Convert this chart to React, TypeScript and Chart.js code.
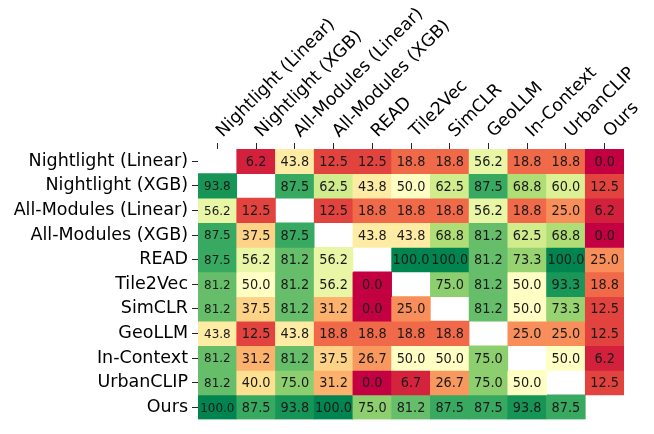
import { useEffect, useRef } from 'react';
import { Chart, registerables } from 'chart.js';

Chart.register(...registerables);

// Methods compared, used for both rows and columns
const methods = [
  'Nightlight (Linear)',
  'Nightlight (XGB)',
  'All-Modules (Linear)',
  'All-Modules (XGB)',
  'READ',
  'Tile2Vec',
  'SimCLR',
  'GeoLLM',
  'In-Context',
  'UrbanCLIP',
  'Ours',
];

// Win rate (%) of the row method against each column method; null on the diagonal
const rowNightlightLinear = [null, 6.2, 43.8, 12.5, 12.5, 18.8, 18.8, 56.2, 18.8, 18.8, 0.0];
const rowNightlightXGB = [93.8, null, 87.5, 62.5, 43.8, 50.0, 62.5, 87.5, 68.8, 60.0, 12.5];
const rowAllModulesLinear = [56.2, 12.5, null, 12.5, 18.8, 18.8, 18.8, 56.2, 18.8, 25.0, 6.2];
const rowAllModulesXGB = [87.5, 37.5, 87.5, null, 43.8, 43.8, 68.8, 81.2, 62.5, 68.8, 0.0];
const rowREAD = [87.5, 56.2, 81.2, 56.2, null, 100.0, 100.0, 81.2, 73.3, 100.0, 25.0];
const rowTile2Vec = [81.2, 50.0, 81.2, 56.2, 0.0, null, 75.0, 81.2, 50.0, 93.3, 18.8];
const rowSimCLR = [81.2, 37.5, 81.2, 31.2, 0.0, 25.0, null, 81.2, 50.0, 73.3, 12.5];
const rowGeoLLM = [43.8, 12.5, 43.8, 18.8, 18.8, 18.8, 18.8, null, 25.0, 25.0, 12.5];
const rowInContext = [81.2, 31.2, 81.2, 37.5, 26.7, 50.0, 50.0, 75.0, null, 50.0, 6.2];
const rowUrbanCLIP = [81.2, 40.0, 75.0, 31.2, 0.0, 6.7, 26.7, 75.0, 50.0, null, 12.5];
const rowOurs = [100.0, 87.5, 93.8, 100.0, 75.0, 81.2, 87.5, 87.5, 93.8, 87.5, null];

const rows: (number | null)[][] = [
  rowNightlightLinear,
  rowNightlightXGB,
  rowAllModulesLinear,
  rowAllModulesXGB,
  rowREAD,
  rowTile2Vec,
  rowSimCLR,
  rowGeoLLM,
  rowInContext,
  rowUrbanCLIP,
  rowOurs,
];

// Red-yellow-green ramp, 11 evenly spaced stops from 0 to 100 %
const RAMP = [
  [194, 0, 66],
  [222, 52, 58],
  [243, 112, 74],
  [252, 172, 104],
  [254, 224, 145],
  [255, 255, 196],
  [220, 241, 148],
  [170, 219, 114],
  [112, 194, 108],
  [36, 160, 92],
  [0, 132, 80],
];

function rampColor(t: number): string {
  const pos = Math.min(1, Math.max(0, t)) * (RAMP.length - 1);
  const i = Math.min(RAMP.length - 2, Math.floor(pos));
  const f = pos - i;
  const a = RAMP[i];
  const b = RAMP[i + 1];
  const c = a.map((v, k) => Math.round(v + (b[k] - v) * f));
  return `rgb(${c[0]}, ${c[1]}, ${c[2]})`;
}

const FONT = '"DejaVu Sans", sans-serif';

// Writes each cell's value at the centre of its bar (slightly condensed glyphs)
const cellLabels = {
  id: 'cellLabels',
  afterDatasetsDraw(chart: any) {
    const ctx = chart.ctx;
    const squeeze = 0.92;
    ctx.save();
    ctx.textAlign = 'center';
    ctx.textBaseline = 'middle';
    ctx.fillStyle = '#1a1a1a';
    rows.forEach((row, r) => {
      const meta = chart.getDatasetMeta(r);
      meta.data.forEach((bar: any, c: number) => {
        const v = row[c];
        if (v == null) return;
        const { x, y, base } = bar.getProps(['x', 'y', 'base'], true);
        ctx.save();
        ctx.translate(x, (y + base) / 2 + 1);
        ctx.scale(squeeze, 1);
        ctx.font = `${c === 0 ? 13 : 14}px ${FONT}`;
        ctx.fillText(v.toFixed(1), 0, 0);
        ctx.restore();
      });
    });
    ctx.restore();
  },
};

export default function App() {
  const canvasRef = useRef<HTMLCanvasElement | null>(null);

  useEffect(() => {
    document.body.style.margin = '0';
    const canvas = canvasRef.current;
    if (!canvas) return;

    const chart = new Chart(canvas, {
      type: 'bar',
      data: {
        labels: methods,
        datasets: rows.map((row, r) => ({
          label: methods[r],
          data: row.map((v) => (v == null ? null : [r - 0.5, r + 0.5])) as any,
          backgroundColor: row.map((v) => (v == null ? 'rgba(0,0,0,0)' : rampColor(v / 100))),
          borderWidth: 0,
          barPercentage: 1,
          categoryPercentage: 1,
          grouped: false,
        })),
      },
      options: {
        animation: false,
        responsive: false,
        events: [],
        layout: { padding: { left: 0, right: 30, top: 0, bottom: 1.5 } },
        plugins: {
          legend: { display: false },
          tooltip: { enabled: false },
        },
        scales: {
          x: {
            type: 'category',
            position: 'top',
            offset: true,
            grid: {
              offset: false,
              drawOnChartArea: false,
              drawTicks: true,
              tickLength: 6,
              tickColor: '#262626',
              tickWidth: 1,
            },
            border: { display: false },
            ticks: {
              autoSkip: false,
              maxRotation: 45,
              minRotation: 45,
              padding: 1,
              labelOffset: 17,
              color: '#000',
              font: { family: FONT, size: 17.5 },
            },
            afterFit: (s: any) => {
              s.height = 149;
              s.paddingLeft = 0;
              s.paddingRight = 0;
            },
          },
          y: {
            type: 'linear',
            min: -0.5,
            max: 10.5,
            reverse: true,
            afterBuildTicks: (s: any) => {
              s.ticks = methods.map((_, i) => ({ value: i }));
            },
            grid: {
              drawOnChartArea: false,
              drawTicks: true,
              tickLength: 6,
              tickColor: '#262626',
              tickWidth: 1,
            },
            border: { display: false },
            ticks: {
              autoSkip: false,
              padding: 4,
              color: '#000',
              font: { family: FONT, size: 17.5 },
              callback: (v: any) => methods[v] ?? '',
            },
            afterFit: (s: any) => {
              s.width = 198;
            },
          },
        },
      },
      plugins: [cellLabels],
    });

    return () => chart.destroy();
  }, []);

  return (
    <div style={{ width: 654, height: 434, background: '#fff' }}>
      <canvas ref={canvasRef} width={654} height={434} />
    </div>
  );
}
